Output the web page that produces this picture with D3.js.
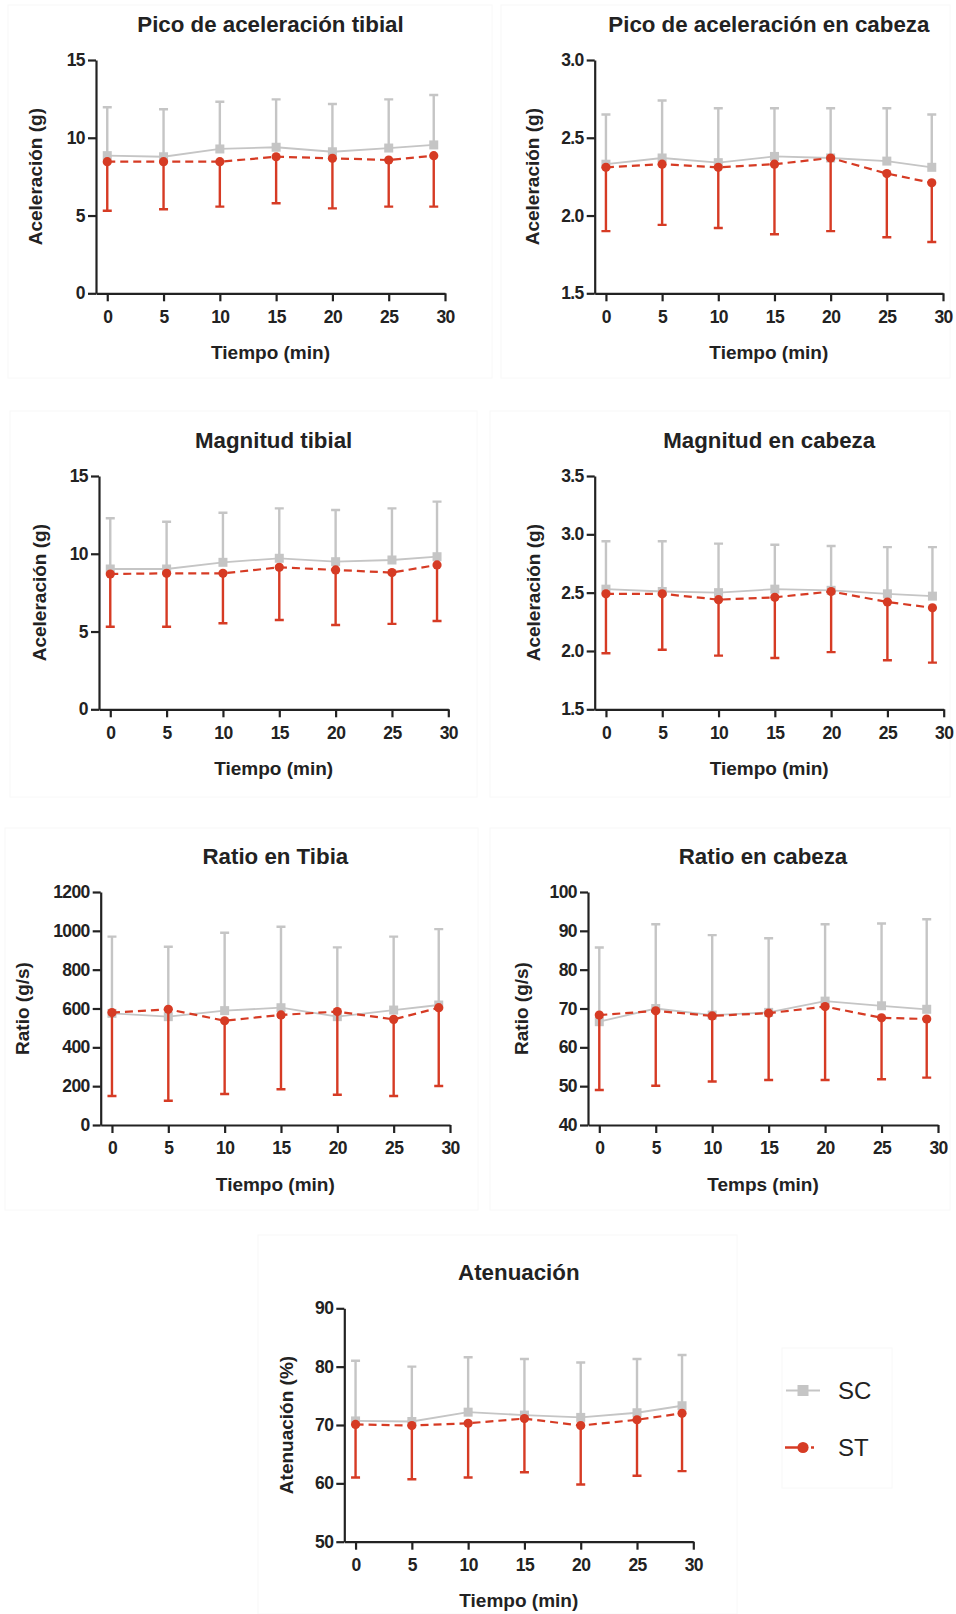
<!DOCTYPE html>
<html>
<head>
<meta charset="utf-8">
<script src="https://cdn.jsdelivr.net/npm/d3@7/dist/d3.min.js"></script>
<style>
  html, body { margin: 0; padding: 0; background: #fff; }
  svg { display: block; }
  text { font-family: "Liberation Sans", Arial, Helvetica, sans-serif; fill: #222; }
</style>
</head>
<body>
<svg id="chart" width="956" height="1614"></svg>
<script>
// Sampling times (min)
const times = [0, 5, 10, 15, 20, 25, 29];
const xTicks = [0, 5, 10, 15, 20, 25, 30];

// Series names
const seriesNames = ["SC", "ST"];

// Panel titles and axis labels
const titles = [
  "Pico de aceleración tibial",
  "Pico de aceleración en cabeza",
  "Magnitud tibial",
  "Magnitud en cabeza",
  "Ratio en Tibia",
  "Ratio en cabeza",
  "Atenuación"
];
const yTitles = [
  "Aceleración (g)", "Aceleración (g)",
  "Aceleración (g)", "Aceleración (g)",
  "Ratio (g/s)", "Ratio (g/s)",
  "Atenuación (%)"
];
const xTitles = [
  "Tiempo (min)", "Tiempo (min)",
  "Tiempo (min)", "Tiempo (min)",
  "Tiempo (min)", "Temps (min)",
  "Tiempo (min)"
];

// Y-axis domains and tick values
const yDomains = [[0, 15], [1.5, 3.0], [0, 15], [1.5, 3.5], [0, 1200], [40, 100], [50, 90]];
const yTickValues = [
  [0, 5, 10, 15],
  [1.5, 2.0, 2.5, 3.0],
  [0, 5, 10, 15],
  [1.5, 2.0, 2.5, 3.0, 3.5],
  [0, 200, 400, 600, 800, 1000, 1200],
  [40, 50, 60, 70, 80, 90, 100],
  [50, 60, 70, 80, 90]
];
const yTickFormats = ["d", ".1f", "d", ".1f", "d", "d", "d"];

// SC: mean and SD (bar drawn upward)
const scMean = [
  [8.85, 8.78, 9.28, 9.39, 9.10, 9.34, 9.54],
  [2.33, 2.37, 2.34, 2.38, 2.37, 2.35, 2.31],
  [9.02, 9.02, 9.45, 9.71, 9.49, 9.60, 9.81],
  [2.53, 2.51, 2.50, 2.53, 2.52, 2.49, 2.47],
  [575, 558, 589, 604, 558, 592, 618],
  [66.6, 70.0, 68.3, 69.0, 71.9, 70.7, 69.8],
  [70.7, 70.6, 72.2, 71.7, 71.3, 72.1, 73.3]
];
const scSD = [
  [3.11, 3.05, 3.04, 3.08, 3.07, 3.13, 3.21],
  [0.32, 0.37, 0.35, 0.31, 0.32, 0.34, 0.34],
  [3.26, 3.04, 3.19, 3.21, 3.32, 3.32, 3.54],
  [0.41, 0.43, 0.42, 0.38, 0.38, 0.40, 0.42],
  [395, 360, 401, 417, 357, 378, 391],
  [19.1, 21.7, 20.6, 19.1, 19.8, 21.2, 23.2],
  [10.3, 9.4, 9.4, 9.6, 9.4, 9.2, 8.7]
];

// ST: mean and SD (bar drawn downward)
const stMean = [
  [8.46, 8.46, 8.46, 8.78, 8.68, 8.57, 8.85],
  [2.31, 2.33, 2.31, 2.33, 2.37, 2.27, 2.21],
  [8.70, 8.74, 8.74, 9.13, 8.96, 8.79, 9.28],
  [2.49, 2.49, 2.44, 2.46, 2.51, 2.42, 2.37],
  [579, 596, 537, 567, 584, 544, 604],
  [68.3, 69.4, 68.1, 68.8, 70.5, 67.6, 67.3],
  [70.1, 69.9, 70.3, 71.1, 69.9, 70.9, 72.0]
];
const stSD = [
  [3.15, 3.06, 2.89, 2.99, 3.22, 3.00, 3.28],
  [0.41, 0.39, 0.39, 0.45, 0.47, 0.41, 0.38],
  [3.39, 3.43, 3.21, 3.39, 3.54, 3.30, 3.60],
  [0.51, 0.48, 0.48, 0.52, 0.52, 0.50, 0.47],
  [430, 471, 377, 383, 428, 395, 403],
  [19.3, 19.3, 16.9, 17.2, 18.9, 15.8, 15.1],
  [9.1, 9.2, 9.3, 9.2, 10.1, 9.6, 9.9]
];

// Layout: plot-area boxes [left, top, right, bottom] and y-title offsets
const plotBoxes = [
  [96, 60, 445, 293.3],
  [594.7, 60, 943, 293.3],
  [99, 476, 448.3, 709.3],
  [594.7, 476, 943.7, 709.3],
  [100.7, 892, 450, 1125],
  [588, 892, 938, 1125],
  [344.3, 1308.3, 693.3, 1541.7]
];
const yTitleOffsets = [-54, -56, -53, -55, -72, -60, -51];

// Faint frames around each panel and the legend
const frames = [
  [8, 5, 492, 378], [501, 5, 950, 378],
  [10, 411, 477, 797], [490, 411, 950, 797],
  [5, 828, 478, 1210], [490, 828, 950, 1210],
  [258, 1235, 737, 1614], [782, 1348, 892, 1488]
];

const GRAY = "#c5c5c5";
const RED = "#d63b24";
const INK = "#222";

const svg = d3.select("#chart");

svg.append("g").selectAll("rect").data(frames).join("rect")
  .attr("x", d => d[0]).attr("y", d => d[1])
  .attr("width", d => d[2] - d[0]).attr("height", d => d[3] - d[1])
  .attr("fill", "none").attr("stroke", "#f8f8f8").attr("stroke-width", 1);

titles.forEach((title, i) => {
  const [L, T, R, B] = plotBoxes[i];
  const w = R - L, h = B - T;
  const g = svg.append("g").attr("transform", `translate(${L},${T})`);

  const x = d3.scaleLinear().domain([-1, 30]).range([0, w]);
  const y = d3.scaleLinear().domain(yDomains[i]).range([h, 0]);

  // Title
  g.append("text").attr("x", w / 2).attr("y", -28.5)
    .attr("text-anchor", "middle").attr("font-size", 22.3).attr("font-weight", "bold")
    .text(title);

  // Axes
  const xAxis = g.append("g").attr("transform", `translate(0,${h})`)
    .call(d3.axisBottom(x).tickValues(xTicks).tickFormat(d3.format("d"))
      .tickSizeInner(8).tickSizeOuter(0).tickPadding(9));
  const yAxis = g.append("g")
    .call(d3.axisLeft(y).tickValues(yTickValues[i]).tickFormat(d3.format(yTickFormats[i]))
      .tickSizeInner(8).tickSizeOuter(0).tickPadding(3));
  [xAxis, yAxis].forEach(ax => {
    ax.select(".domain").attr("stroke", INK).attr("stroke-width", 2.2);
    ax.selectAll(".tick line").attr("stroke", INK).attr("stroke-width", 2.2);
    ax.selectAll(".tick text").attr("font-size", 17.5).attr("font-weight", "bold")
      .attr("fill", INK).attr("letter-spacing", "-0.6px")
      .style("font-family", "'Liberation Sans', Arial, sans-serif");
  });

  // Axis titles
  g.append("text").attr("x", w / 2).attr("y", h + 65.7)
    .attr("text-anchor", "middle").attr("font-size", 19).attr("font-weight", "bold")
    .text(xTitles[i]);
  g.append("text")
    .attr("transform", `translate(${yTitleOffsets[i]},${h / 2}) rotate(-90)`)
    .attr("text-anchor", "middle").attr("font-size", 19).attr("font-weight", "bold")
    .text(yTitles[i]);

  const sc = times.map((t, k) => ({ t, m: scMean[i][k], sd: scSD[i][k] }));
  const st = times.map((t, k) => ({ t, m: stMean[i][k], sd: stSD[i][k] }));
  const line = d3.line().x(d => x(d.t)).y(d => y(d.m));
  const cap = 4.5;

  // SC error bars (upward)
  const gSC = g.append("g");
  gSC.selectAll(".bar").data(sc).join("path")
    .attr("d", d => `M${x(d.t)},${y(d.m)}V${y(d.m + d.sd)}M${x(d.t) - cap},${y(d.m + d.sd)}H${x(d.t) + cap}`)
    .attr("stroke", GRAY).attr("stroke-width", 2.4).attr("fill", "none");
  gSC.append("path").datum(sc).attr("d", line)
    .attr("stroke", GRAY).attr("stroke-width", 1.8).attr("fill", "none");
  gSC.selectAll("rect").data(sc).join("rect")
    .attr("x", d => x(d.t) - 4.5).attr("y", d => y(d.m) - 4.5)
    .attr("width", 9).attr("height", 9).attr("fill", GRAY);

  // ST error bars (downward)
  const gST = g.append("g");
  gST.selectAll(".bar").data(st).join("path")
    .attr("d", d => `M${x(d.t)},${y(d.m)}V${y(d.m - d.sd)}M${x(d.t) - cap},${y(d.m - d.sd)}H${x(d.t) + cap}`)
    .attr("stroke", RED).attr("stroke-width", 2.4).attr("fill", "none");
  gST.append("path").datum(st).attr("d", line)
    .attr("stroke", RED).attr("stroke-width", 2.2).attr("stroke-dasharray", "8,5").attr("fill", "none");
  gST.selectAll("circle").data(st).join("circle")
    .attr("cx", d => x(d.t)).attr("cy", d => y(d.m)).attr("r", 4.6).attr("fill", RED);
});

// Legend
const legendRows = [
  { name: seriesNames[0], y: 1390.5 },
  { name: seriesNames[1], y: 1447.5 }
];
const lg = svg.append("g");
lg.append("line").attr("x1", 786).attr("x2", 820).attr("y1", legendRows[0].y).attr("y2", legendRows[0].y)
  .attr("stroke", GRAY).attr("stroke-width", 2);
lg.append("rect").attr("x", 797.5).attr("y", legendRows[0].y - 5.5).attr("width", 11).attr("height", 11)
  .attr("fill", GRAY);
lg.append("line").attr("x1", 785).attr("x2", 820).attr("y1", legendRows[1].y).attr("y2", legendRows[1].y)
  .attr("stroke", RED).attr("stroke-width", 2.6).attr("stroke-dasharray", "19,7,3");
lg.append("circle").attr("cx", 803).attr("cy", legendRows[1].y).attr("r", 5.6).attr("fill", RED);
lg.selectAll("text").data(legendRows).join("text")
  .attr("x", 838).attr("y", d => d.y + 8.5)
  .attr("font-size", 24).attr("fill", INK)
  .text(d => d.name);
</script>
</body>
</html>
